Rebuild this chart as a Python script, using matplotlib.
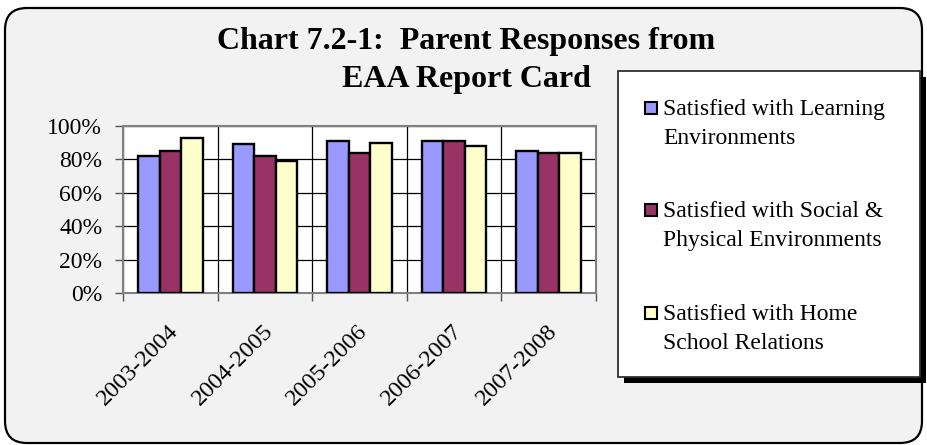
import matplotlib
matplotlib.use("Agg")
import matplotlib.pyplot as plt
import numpy as np
from matplotlib.patches import FancyBboxPatch, Rectangle
from matplotlib.transforms import IdentityTransform, ScaledTranslation
from matplotlib.ticker import PercentFormatter

plt.rcParams['font.family'] = ['Liberation Serif', 'DejaVu Serif']

# data
years = ["2003-2004", "2004-2005", "2005-2006", "2006-2007", "2007-2008"]
learning = [82, 89, 91, 91, 85]
social = [85, 82, 84, 91, 84]
home = [93, 79, 90, 88, 84]
series_labels = ["Satisfied with Learning\nEnvironments",
                 "Satisfied with Social &\nPhysical Environments",
                 "Satisfied with Home\nSchool Relations"]
colors = ["#9999ff", "#993366", "#ffffcc"]

W, H = 927, 445
fig = plt.figure(figsize=(W / 100, H / 100), dpi=100, facecolor="white")

# rounded chart area background
outer = FancyBboxPatch((5, 2), 917, 435, boxstyle="round,pad=0,rounding_size=22",
                       transform=IdentityTransform(), facecolor="#f2f2f2",
                       edgecolor="black", linewidth=1.6, zorder=-5)
fig.patches.append(outer)

ax = fig.add_axes([123 / W, 1 - 293 / H, (596 - 123) / W, (293 - 126) / H])
ax.set_zorder(2)
ax.set_facecolor("white")

x = np.arange(len(years))
bw = 0.227
for i, (vals, col) in enumerate(zip([learning, social, home], colors)):
    ax.bar(x + (i - 1) * bw, vals, bw, color=col, edgecolor="black",
           linewidth=1.7, zorder=3)

ax.set_xlim(-0.5, len(years) - 0.5)
ax.set_ylim(0, 100)
ax.set_yticks(np.arange(0, 101, 20))
ax.yaxis.set_major_formatter(PercentFormatter(decimals=0))
ax.set_xticks(x)
ax.set_xticklabels(years, rotation=45, ha="right", va="center",
                   rotation_mode="anchor", fontsize=17.5)
ax.set_xticks(np.arange(-0.5, len(years)), minor=True)
ax.tick_params(axis="x", which="major", length=0, pad=25)
ax.tick_params(axis="x", which="minor", length=6, width=1, color="#555555")
ax.tick_params(axis="y", length=6, width=1, color="#555555", labelsize=17, pad=9)
for lab in ax.get_xticklabels():
    lab.set_transform(lab.get_transform() + ScaledTranslation(5 / 100, 0, fig.dpi_scale_trans))

ax.grid(True, axis="y", which="major", color="black", linewidth=0.9, zorder=1)
ax.grid(True, axis="x", which="minor", color="black", linewidth=0.9, zorder=1)
ax.grid(False, axis="x", which="major")
ax.set_axisbelow(True)
for s in ax.spines.values():
    s.set_color("#808080")
    s.set_linewidth(1.5)

# title
fig.text(466 / W, 1 - 49 / H, "Chart 7.2-1:  Parent Responses from", ha="center",
         va="baseline", fontsize=23, fontweight="bold")
fig.text(466 / W, 1 - 87 / H, "EAA Report Card", ha="center",
         va="baseline", fontsize=23, fontweight="bold")

# legend box with shadow
lx0, lx1, ly_top, ly_bot = 618, 920, 71, 377
shadow = Rectangle((lx0 + 6, H - ly_bot - 6), lx1 - lx0, ly_bot - ly_top,
                   transform=IdentityTransform(), facecolor="black",
                   edgecolor="none", zorder=1)
box = Rectangle((lx0, H - ly_bot), lx1 - lx0, ly_bot - ly_top,
                transform=IdentityTransform(), facecolor="white",
                edgecolor="#303030", linewidth=1.3, zorder=2)
fig.patches.extend([shadow, box])

rows = [108, 210, 313]
for yc, lab, col in zip(rows, series_labels, colors):
    sq = Rectangle((645, H - yc - 6), 12, 12, transform=IdentityTransform(),
                   facecolor=col, edgecolor="black", linewidth=1.5, zorder=3)
    fig.patches.append(sq)
    for k, line in enumerate(lab.split("\n")):
        fig.text(663 / W, 1 - (yc + 7 + 29 * k) / H, line, ha="left",
                 va="baseline", fontsize=17, zorder=4)

fig.savefig("out.png", dpi=100, facecolor=fig.get_facecolor())
